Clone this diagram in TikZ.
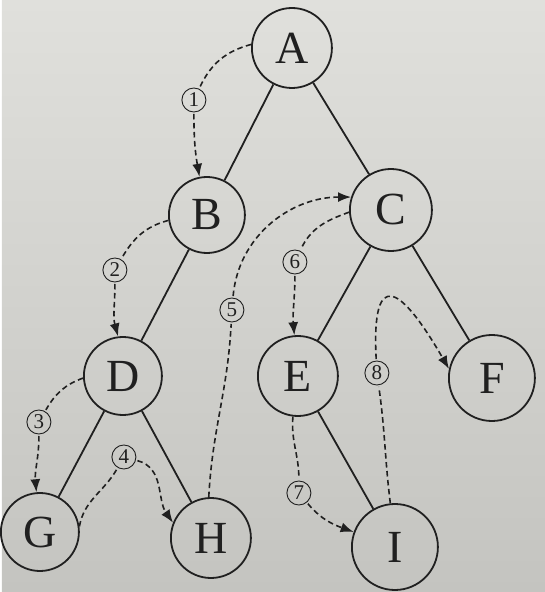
\documentclass[tikz,border=0pt]{standalone}
\usepackage{fontspec}
\setmainfont{Liberation Serif}
\usetikzlibrary{arrows.meta}
\definecolor{ink}{RGB}{32,32,32}
\definecolor{papertop}{RGB}{224,224,220}
\definecolor{paperbot}{RGB}{196,196,192}
\begin{document}
\begin{tikzpicture}[x=1pt,y=1pt]
        \tikzset{
            treenode/.style={circle,draw=ink,line width=1.8pt,minimum size=80pt,inner sep=0pt,text=ink,font=\fontsize{46}{46}\selectfont},
            stepno/.style={circle,draw=ink,line width=0.9pt,minimum size=24pt,inner sep=0pt,outer sep=2pt,text=ink,font=\fontsize{21}{21}\selectfont},
            edge/.style={draw=ink,line width=1.8pt},
            visit/.style={draw=ink,line width=1.6pt,dash pattern=on 5.5pt off 3.5pt},
            visitarrow/.style={visit,-{Latex[length=13pt,width=10pt]}},
        }
        \shade[top color=papertop,bottom color=paperbot] (0,0) rectangle (543,592);

        \node[treenode] (A) at(290,544) {A};
        \node[treenode,minimum size=76pt] (B) at(205,377) {B};
        \node[treenode,minimum size=82pt] (C) at(389,382) {C};
        \node[treenode,minimum size=78pt] (D) at(121,216) {D};
        \node[treenode] (E) at(296,216) {E};
        \node[treenode,minimum size=86pt] (F) at(490,214) {F};
        \node[treenode,minimum size=78pt] (G) at(38,60) {G};
        \node[treenode] (H) at(209,54) {H};
        \node[treenode,minimum size=86pt] (I) at(393,45) {I};

        \node[stepno] (n1) at(192,492) {1};
        \node[stepno] (n2) at(113,322) {2};
        \node[stepno] (n3) at(37,170) {3};
        \node[stepno] (n4) at(122,135) {4};
        \node[stepno] (n5) at(230,282) {5};
        \node[stepno] (n6) at(293,330) {6};
        \node[stepno] (n7) at(297,99) {7};
        \node[stepno] (n8) at(375,219) {8};

        \draw[edge] (A) -- (B);
        \draw[edge] (A) -- (C);
        \draw[edge] (B) -- (D);
        \draw[edge] (C) -- (E);
        \draw[edge] (C) -- (F);
        \draw[edge] (D) -- (G);
        \draw[edge] (D) -- (H);
        \draw[edge] (E) -- (I);

        \draw[visit] (A.175) to[out=195,in=65] (n1);
        \draw[visitarrow] (n1) to[out=-90,in=100] (B.101);
        \draw[visit] (B.188) to[out=195,in=60] (n2);
        \draw[visitarrow] (n2) to[out=-90,in=105] (D.97);
        \draw[visit] (D.183) to[out=200,in=60] (n3);
        \draw[visitarrow] (n3) to[out=-90,in=95] (G.95);
        \draw[visit] (G.8) to[out=80,in=240] (n4);
        \draw[visitarrow] (n4) to[out=-15,in=125] (H.158);
        \draw[visit] (H.93) to[out=87,in=-93] (n5);
        \draw[visitarrow] (n5) to[out=85,in=180] (C.162);
        \draw[visit] (C.183) to[out=200,in=65] (n6);
        \draw[visitarrow] (n6) to[out=-90,in=95] (E.95);
        \draw[visit] (E.263) to[out=-95,in=90] (n7);
        \draw[visitarrow] (n7) to[out=-50,in=160] (I.160);
        \draw[visit] (I.96) to[out=97,in=-82] (n8);
        \draw[visitarrow] (n8) to[out=93,in=120,looseness=3.3] (F.168);
\end{tikzpicture}
\end{document}
